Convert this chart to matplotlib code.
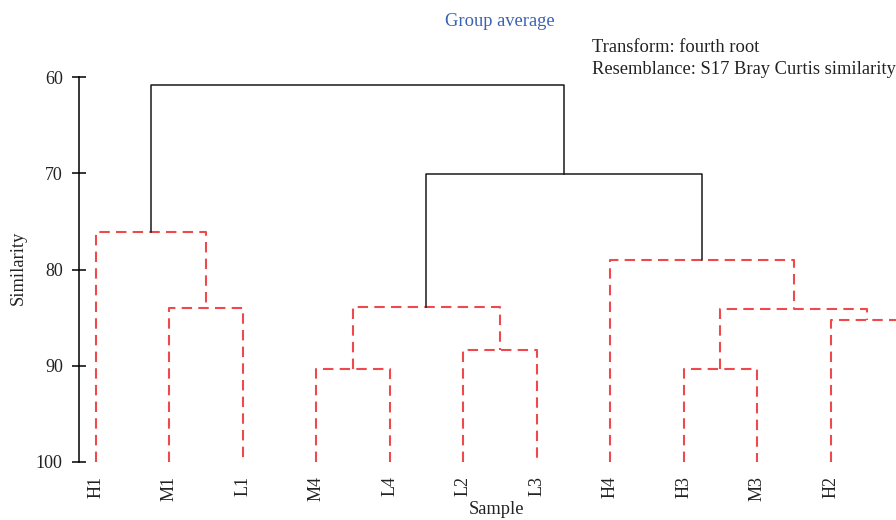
import matplotlib
matplotlib.use("Agg")
import matplotlib.pyplot as plt

# leaves in plotted order (last one sits beyond the right edge)
samples = ["H1", "M1", "L1", "M4", "L4", "L2", "L3", "H4", "H3", "M3", "H2", "M2"]
# merges: child a, child b, similarity (nodes 12+ are the merged clusters)
merge_a = [1, 0, 3, 5, 14, 8, 10, 17, 7, 16, 13]
merge_b = [2, 12, 4, 6, 15, 9, 11, 18, 19, 20, 21]
merge_sim = [84.0, 76.1, 90.3, 88.4, 83.9, 90.3, 85.2, 84.15, 79.0, 70.1, 60.8]
# merges above this similarity drawn as dashed red (not significant)
cut = 75

plt.rcParams['font.family'] = ['Liberation Serif', 'DejaVu Serif']

fig = plt.figure(figsize=(8.96, 5.2), dpi=100)
ax = fig.add_axes([79 / 896, 1 - 462 / 520, 1 - 79 / 896, (462 - 77) / 520])

xpos = {i: float(i) for i in range(len(samples))}
ypos = {i: 100.0 for i in range(len(samples))}
for k, (a, b, s) in enumerate(zip(merge_a, merge_b, merge_sim)):
    node = len(samples) + k
    xs = [xpos[a], xpos[a], xpos[b], xpos[b]]
    ys = [ypos[a], s, s, ypos[b]]
    if s > cut:
        ax.plot(xs, ys, color="#EE4A4E", lw=1.5, ls=(0, (5, 3)), clip_on=False)
    else:
        ax.plot(xs, ys, color="#1a1a1a", lw=1.1, clip_on=False)
    xpos[node] = (xpos[a] + xpos[b]) / 2
    ypos[node] = s

ax.set_yticks([60, 70, 80, 90, 100])
ax.set_xticks(range(len(samples)))
ax.set_xticklabels(samples, rotation=90, fontsize=13, color="#222222")
# limits after the ticks, so set_xticks does not widen them
ax.set_xlim(-0.227, 10.888)
ax.set_ylim(100, 60)
ax.tick_params(axis="x", length=0, pad=10)
ax.tick_params(axis="y", direction="inout", length=9.4, width=1.1, pad=7,
               labelsize=13, labelcolor="#222222")

for side in ["top", "right", "bottom"]:
    ax.spines[side].set_visible(False)
ax.spines["left"].set_bounds(60, 100)
ax.spines["left"].set_linewidth(1.1)

fig.text(18 / 896, 1 - 268 / 520, "Similarity", rotation=90, ha="center", va="center",
         fontsize=13.3, color="#222222")
fig.text(496 / 896, 1 - 510 / 520, "Sample", ha="center", va="center",
         fontsize=13.3, color="#222222")
fig.text(500 / 896, 1 - 22 / 520, "Group average", ha="center", va="center",
         fontsize=13.3, color="#3A62B0")
fig.text(592 / 896, 1 - 47 / 520, "Transform: fourth root", ha="left", va="center",
         fontsize=13.3, color="#222222")
fig.text(592 / 896, 1 - 70 / 520, "Resemblance: S17 Bray Curtis similarity", ha="left",
         va="center", fontsize=13.3, color="#222222")

fig.savefig("out.png", dpi=100)
